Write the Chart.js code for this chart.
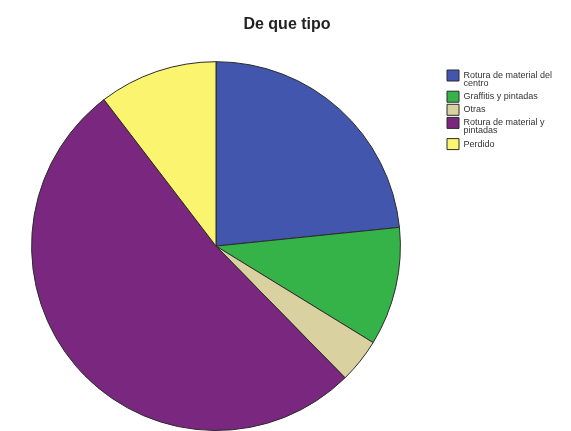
<!DOCTYPE html>
<html>
<head>
<meta charset="utf-8">
<script src="https://cdn.jsdelivr.net/npm/chart.js@4"></script>
<style>
  html, body { margin: 0; padding: 0; background: #fff; }
</style>
</head>
<body>
<canvas id="cvs_tipo" width="571" height="431"></canvas>
<script>
const categorias = [
  ["Rotura de material del", "centro"],
  ["Graffitis y pintadas"],
  ["Otras"],
  ["Rotura de material y", "pintadas"],
  ["Perdido"],
];
const cantidades = [18, 8, 3, 40, 8];
const colores = ["#4156ac", "#35b349", "#d9d1a0", "#7a287f", "#fbf46e"];

const canvasTipo = document.getElementById("cvs_tipo");
const fuente = "'Liberation Sans', Arial, sans-serif";

// la leyenda ocupa un ancho fijo a la derecha y se dibuja un poco mas abajo/derecha
const ajusteLeyenda = {
  id: "ajusteLeyenda",
  beforeLayout(chart) {
    const leyenda = chart.legend;
    if (leyenda && !leyenda._anchoFijo) {
      const fitOriginal = leyenda.fit;
      leyenda.fit = function () {
        fitOriginal.call(this);
        this.width = 139;
      };
      leyenda._anchoFijo = true;
    }
  },
  afterLayout(chart) {
    chart.legend.left += 10;
    chart.legend.top += 65;
    if (chart.titleBlock) chart.titleBlock.left += 3;
  },
};

new Chart(canvasTipo, {
  type: "pie",
  data: {
    labels: categorias,
    datasets: [
      {
        data: cantidades,
        backgroundColor: colores,
        borderColor: "#2b2b2b",
        borderWidth: 1,
      },
    ],
  },
  options: {
    responsive: false,
    animation: false,
    layout: { padding: 0 },
    plugins: {
      legend: {
        display: true,
        position: "right",
        align: "start",
        labels: {
          boxWidth: 12,
          boxHeight: 11,
          padding: 5,
          color: "#333",
          font: { size: 9, family: fuente, lineHeight: 0.9 },
        },
      },
      tooltip: { enabled: false },
      title: {
        display: true,
        text: "De que tipo",
        color: "#222",
        font: { size: 16, weight: "bold", family: fuente },
        padding: { top: 15, bottom: 27 },
      },
    },
  },
  plugins: [ajusteLeyenda],
});
</script>
</body>
</html>
